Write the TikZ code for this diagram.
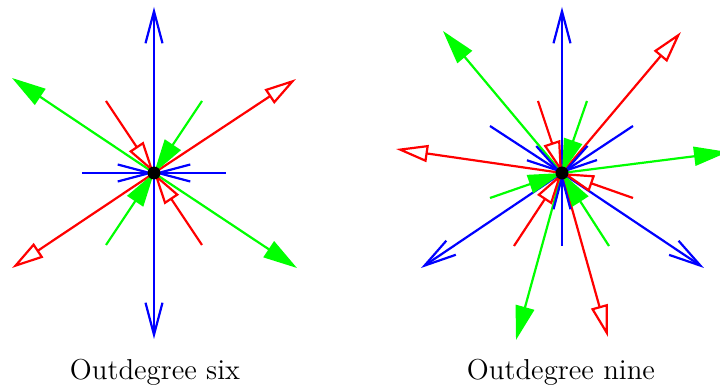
\documentclass[tikz,border=0pt]{standalone}
\usepackage{tikz}
\usetikzlibrary{arrows.meta}

\begin{document}
\begin{tikzpicture}[x=0.5pt, y=-0.5pt,
  bedge/.style={draw=blue, line width=1.1pt, -{Straight Barb[length=16pt,width=8.5pt]}},
  redge/.style={draw=red, line width=1.1pt, -{Triangle[open,length=16pt,width=8.5pt]}},
  gedge/.style={draw=green, line width=1.1pt, -{Triangle[length=17pt,width=9.5pt]}},
  dot/.style={circle, fill=black, inner sep=0pt, minimum size=6.5pt},
  lbl/.style={font=\Large, anchor=base}]
\useasboundingbox (0,0) rectangle (720,385);
% outdegree six
\coordinate (c6) at (154,173);
\coordinate (u6) at (154,7);
\coordinate (d6) at (154,339);
\coordinate (gl6) at (12,78);
\coordinate (gr6) at (297,268);
\coordinate (rl6) at (12,268);
\coordinate (rr6) at (296,79);
\coordinate (bl6) at (82,173);
\coordinate (br6) at (226,173);
\coordinate (ra6) at (106,101);
\coordinate (rb6) at (202,245);
\coordinate (ga6) at (202,101);
\coordinate (gb6) at (106,245);
\draw[bedge] (c6) -- (u6);
\draw[bedge] (c6) -- (d6);
\draw[gedge] (c6) -- (gl6);
\draw[gedge] (c6) -- (gr6);
\draw[redge] (c6) -- (rl6);
\draw[redge] (c6) -- (rr6);
\draw[bedge] (bl6) -- (c6);
\draw[bedge] (br6) -- (c6);
\draw[redge] (ra6) -- (c6);
\draw[redge] (rb6) -- (c6);
\draw[gedge] (ga6) -- (c6);
\draw[gedge] (gb6) -- (c6);
\node[dot] (v6) at (c6) {};
\node[lbl] (t6) at (155,380) {Outdegree six};
% outdegree nine
\coordinate (c9) at (562,173);
\coordinate (bu9) at (562,7);
\coordinate (bl9) at (421,268);
\coordinate (br9) at (704,268);
\coordinate (gu9) at (443,31);
\coordinate (gr9) at (728,152);
\coordinate (gd9) at (516,340);
\coordinate (ru9) at (681,32);
\coordinate (rl9) at (396,149);
\coordinate (rd9) at (608,337);
\coordinate (ria) at (538,101);
\coordinate (rib) at (633,198);
\coordinate (ric) at (514,246);
\coordinate (gia) at (587,101);
\coordinate (gib) at (490,198);
\coordinate (gic) at (609,246);
\coordinate (bia) at (490,126);
\coordinate (bib) at (633,126);
\coordinate (bic) at (562,246);
\draw[bedge] (c9) -- (bu9);
\draw[bedge] (c9) -- (bl9);
\draw[bedge] (c9) -- (br9);
\draw[gedge] (c9) -- (gu9);
\draw[gedge] (c9) -- (gr9);
\draw[gedge] (c9) -- (gd9);
\draw[redge] (c9) -- (ru9);
\draw[redge] (c9) -- (rl9);
\draw[redge] (c9) -- (rd9);
\draw[redge] (ria) -- (c9);
\draw[redge] (rib) -- (c9);
\draw[redge] (ric) -- (c9);
\draw[gedge] (gia) -- (c9);
\draw[gedge] (gib) -- (c9);
\draw[gedge] (gic) -- (c9);
\draw[bedge] (bia) -- (c9);
\draw[bedge] (bib) -- (c9);
\draw[bedge] (bic) -- (c9);
\node[dot] (v9) at (c9) {};
\node[lbl] (t9) at (561,380) {Outdegree nine};
\end{tikzpicture}
\end{document}
